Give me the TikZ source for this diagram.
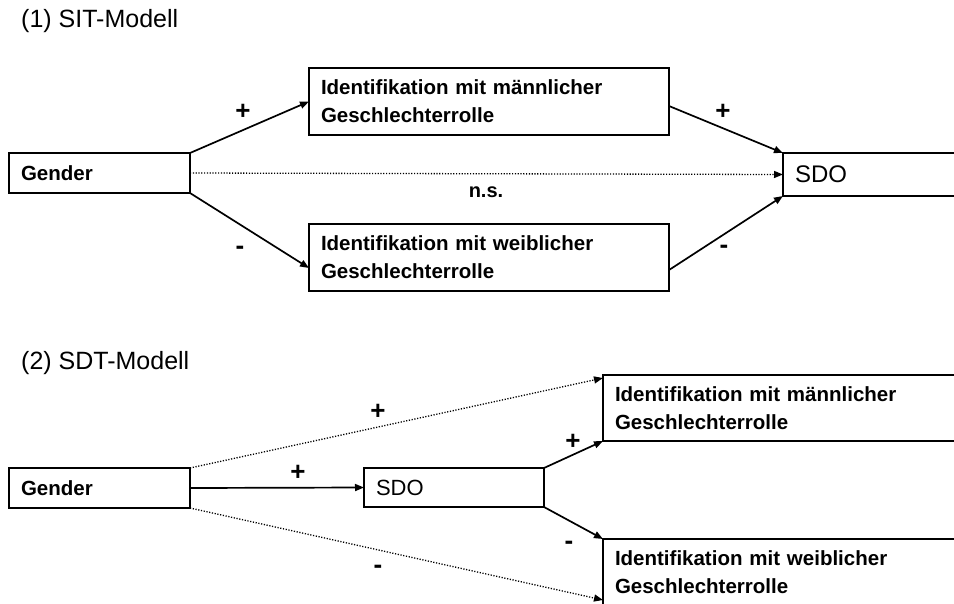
\documentclass[tikz,border=0pt]{standalone}
\usepackage{fontspec}
\setmainfont{Liberation Sans}
\usetikzlibrary{arrows.meta}
\begin{document}
\begin{tikzpicture}[x=1pt,y=-1pt,
  box/.style={draw, line width=1.8pt, anchor=north west, outer sep=0pt,
    inner ysep=0pt, inner xsep=12pt, align=left},
  boldtxt/.style={font=\fontsize{20.5}{28}\selectfont\bfseries},
  title/.style={anchor=base west, inner sep=0pt, font=\fontsize{25}{30}\selectfont},
  sign/.style={inner sep=0pt, font=\fontsize{26}{30}\selectfont\bfseries},
  arr/.style={line width=1.7pt, -{Triangle[length=9pt,width=7pt]}},
  dotarr/.style={line width=1.3pt, dash pattern=on 1.2pt off 1.6pt, -{Triangle[length=9pt,width=7pt]}}
]
\clip (0,0) rectangle (954,603);
\fill[white] (0,0) rectangle (954,603);

% ---------- (1) SIT-Modell ----------
\node[title] (t1) at (21,27) {(1) SIT-Modell};

\node[box, boldtxt, text width=157pt, minimum height=40pt] (g1) at (9,153) {Gender};
\node[box, boldtxt, text width=336pt, minimum height=67pt] (m1) at (309,68)
  {Identifikation mit männlicher\\Geschlechterrolle};
\node[box, boldtxt, text width=336pt, minimum height=67pt] (w1) at (309,224)
  {Identifikation mit weiblicher\\Geschlechterrolle};
\node[box, font=\fontsize{24}{28}\selectfont, text width=196pt, minimum height=43pt] (s1) at (783,153) {SDO};

\draw[arr] (g1.north east) -- (m1.west);
\draw[arr] (g1.south east) -- ([yshift=-10.5pt]w1.west);
\draw[arr] ([yshift=-4.5pt]m1.east) -- (s1.north west);
\draw[arr] ([yshift=-12.5pt]w1.east) -- (s1.south west);
\draw[dotarr] (g1.east) -- (s1.west);

\node[sign] (p1) at (243,112) {+};
\node[sign] (n1) at (240,250) {-};
\node[sign] (p2) at (723,112) {+};
\node[sign] (n2) at (724,249) {-};
\node[inner sep=0pt, font=\fontsize{20}{24}\selectfont\bfseries] (ns) at (486,192) {n.s.};

% ---------- (2) SDT-Modell ----------
\node[title] (t2) at (21,369) {(2) SDT-Modell};

\node[box, boldtxt, text width=157pt, minimum height=40pt] (g2) at (9,468) {Gender};
\node[box, font=\fontsize{22}{26}\selectfont, text width=156pt, minimum height=39pt] (s2) at (364,468) {SDO};
\node[box, boldtxt, text width=376pt, minimum height=66pt] (m2) at (603,375)
  {Identifikation mit männlicher\\Geschlechterrolle};
\node[box, boldtxt, text width=376pt, minimum height=66pt] (w2) at (603,539)
  {Identifikation mit weiblicher\\Geschlechterrolle};

\draw[arr] (g2.east) -- (s2.west);
\draw[dotarr] (g2.north east) -- ([yshift=-3pt]m2.north west);
\draw[dotarr] (g2.south east) -- ([yshift=-61pt]w2.north west);
\draw[arr] (s2.north east) -- (m2.south west);
\draw[arr] (s2.south east) -- (w2.north west);

\node[sign] (p3) at (298,473) {+};
\node[sign] (p4) at (378,412) {+};
\node[sign] (n3) at (378,569) {-};
\node[sign] (p5) at (573,442) {+};
\node[sign] (n4) at (569,545) {-};
\end{tikzpicture}
\end{document}
